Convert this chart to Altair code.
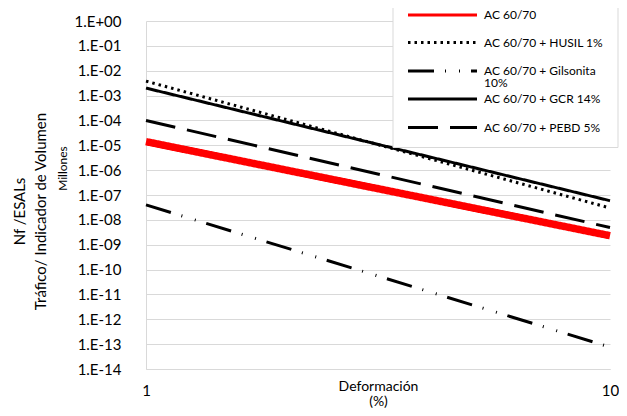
import altair as alt
import pandas as pd

series = ["AC 60/70", "AC 60/70 + HUSIL 1%", "AC 60/70 + Gilsonita 10%",
          "AC 60/70 + GCR 14%", "AC 60/70 + PEBD 5%"]
legend_labels = [["AC 60/70"], ["AC 60/70 + HUSIL 1%"], ["AC 60/70 + Gilsonita", "10%"],
                 ["AC 60/70 + GCR 14%"], ["AC 60/70 + PEBD 5%"]]
deformacion = [1, 10]
nf_ac = [1.4e-5, 2.3e-9]
nf_husil = [3.8e-3, 3.0e-8]
nf_gils = [4.0e-8, 7.6e-14]
nf_gcr = [2.0e-3, 5.9e-8]
nf_pebd = [1.0e-4, 4.9e-9]
y_ticks = [1e-14, 1e-13, 1e-12, 1e-11, 1e-10, 1e-9, 1e-8, 1e-7,
           1e-6, 1e-5, 1e-4, 1e-3, 1e-2, 1e-1, 1e0]
x_ticks = [1, 10]

colors = ["#ff0000", "#000000", "#000000", "#000000", "#000000"]
dashes = [[1, 0], [2.5, 4], [26, 11, 1, 13, 1, 11], [1, 0], [30, 12]]

rows = []
for name, vals in zip(series, [nf_ac, nf_husil, nf_gils, nf_gcr, nf_pebd]):
    for xv, yv in zip(deformacion, vals):
        rows.append({"serie": name, "deformacion": xv, "nf": yv})
df = pd.DataFrame(rows)

FONT = "Lato"

color_scale = alt.Scale(domain=series, range=colors)
dash_scale = alt.Scale(domain=series, range=dashes)

yexp = "abs(round(log(datum.value)/LN10))"
y_label_expr = ("'1.E' + (datum.value >= 1 ? '+' : '-') + (" + yexp + " < 10 ? '0' : '') + " + yexp)

lines = alt.Chart(df).mark_line().encode(
    x=alt.X("deformacion:Q",
            scale=alt.Scale(type="log", domain=[1, 10]),
            axis=alt.Axis(values=x_ticks, format="~g", title=["Deformación", "(%)"],
                          ticks=False, grid=False, domainColor="#d9d9d9",
                          labelFont=FONT, labelFontSize=15, labelColor="#000000",
                          labelPadding=14, labelFlush=False,
                          titleFont=FONT, titleFontSize=14, titleFontWeight="normal",
                          titleColor="#000000", titleX=232, titleY=17,
                          titleBaseline="middle", titleLineHeight=15)),
    y=alt.Y("nf:Q",
            scale=alt.Scale(type="log", domain=[1e-14, 1]),
            axis=alt.Axis(values=y_ticks, labelExpr=y_label_expr,
                          title=["Nf /ESALs", "Tráfico/ Indicador de Volumen"],
                          ticks=False, grid=True, gridColor="#d9d9d9",
                          domainColor="#d9d9d9",
                          labelFont=FONT, labelFontSize=15, labelColor="#000000",
                          labelPadding=25,
                          titleFont=FONT, titleFontSize=15, titleFontWeight="normal",
                          titleColor="#000000", titleX=-127, titleY=190,
                          titleAlign="center", titleBaseline="middle",
                          titleLineHeight=21)),
    color=alt.Color("serie:N", scale=color_scale, legend=None),
    strokeDash=alt.StrokeDash("serie:N", scale=dash_scale, legend=None),
    strokeWidth=alt.condition(alt.datum.serie == "AC 60/70", alt.value(7.5), alt.value(3)),
)

millones = alt.Chart(pd.DataFrame({"t": ["Millones"]})).mark_text(
    angle=270, font=FONT, fontSize=12, color="#000000", baseline="middle", align="center"
).encode(text="t:N", x=alt.value(-83.5), y=alt.value(147.5))

# legend box (decoration, pixel placement)
legend_box = alt.Chart(pd.DataFrame({"k": [0]})).mark_rect(
    fill="#ffffff", stroke="#d9d9d9", strokeWidth=1
).encode(x=alt.value(247), x2=alt.value(472), y=alt.value(-14.5), y2=alt.value(126.5))

legend_rows_y = [-6.0, 21.5, 50.0, 78.0, 106.5]
legend_layers = [legend_box]
for name, lab, ry in zip(series, legend_labels, legend_rows_y):
    d = pd.DataFrame({"serie": [name], "lab": [lab]})
    sym = alt.Chart(d).mark_rule(strokeWidth=3).encode(
        x=alt.value(262), x2=alt.value(331), y=alt.value(ry),
        color=alt.Color("serie:N", scale=color_scale, legend=None),
        strokeDash=alt.StrokeDash("serie:N", scale=dash_scale, legend=None),
    )
    txt = alt.Chart(d).mark_text(
        font=FONT, fontSize=12, color="#000000", align="left", baseline="middle", lineHeight=12
    ).encode(text="lab", x=alt.value(338), y=alt.value(ry))
    legend_layers += [sym, txt]

chart = alt.layer(lines, millones, *legend_layers).properties(
    width=464, height=348,
    padding={"left": 138, "top": 13, "right": 9, "bottom": 39},
    autosize=alt.AutoSizeParams(type="none"),
    background="#ffffff",
).configure_view(stroke=None)

chart.save("out.html", embed_options={"renderer": "svg", "actions": False})
